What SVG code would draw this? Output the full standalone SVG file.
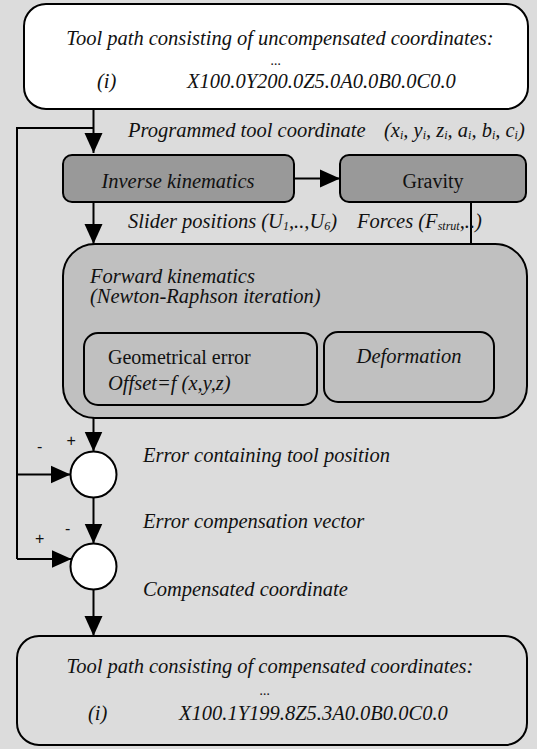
<svg xmlns="http://www.w3.org/2000/svg" width="537" height="749" viewBox="0 0 537 749">
<style>
.box{stroke:#000;stroke-width:2}
.white{fill:#fff}
.dark{fill:#999}
.mid{fill:#c0c0c0}
.plain{fill:#dcdcdc}
.t{font-family:"Liberation Serif","Times New Roman",serif;font-size:20.5px;fill:#111}
.u{font-size:20px}
.i{font-style:italic}
.c{text-anchor:middle}
.d{font-size:14px}
.ln{stroke:#000;stroke-width:2;fill:none}
.sign{font-family:"Liberation Sans",Arial,sans-serif;font-size:16px;fill:#111}
</style>
<defs>
<marker id="ah" markerUnits="userSpaceOnUse" markerWidth="20" markerHeight="20" viewBox="0 0 20 20" refX="20" refY="10" orient="auto"><path d="M0,1 L20,10 L0,19 Z" fill="#000"/></marker>
</defs>
<rect x="0" y="0" width="537" height="749" fill="#dcdcdc"/>

<g id="connectors">
<path class="ln" d="M93.5,109 V153" marker-end="url(#ah)"/>
<path class="ln" d="M93.5,128 H17 V559"/>
<path class="ln" d="M17,474.5 H70.5" marker-end="url(#ah)"/>
<path class="ln" d="M17,559 H71.5" marker-end="url(#ah)"/>
<path class="ln" d="M294,178.5 H340" marker-end="url(#ah)"/>
<path class="ln" d="M93.5,202 V244" marker-end="url(#ah)"/>
<path class="ln" d="M471,202 V332" marker-end="url(#ah)"/>
<path class="ln" d="M93.5,418 V451.5" marker-end="url(#ah)"/>
<path class="ln" d="M93.5,497.5 V543.5" marker-end="url(#ah)"/>
<path class="ln" d="M93.5,589.5 V636" marker-end="url(#ah)"/>
</g>

<g id="top-box">
<rect class="box white" x="24" y="4" width="504" height="105" rx="22"/>
<text class="t i c" x="280" y="45">Tool path consisting of  uncompensated coordinates:</text>
<text class="t i c d" x="276" y="65">...</text>
<text class="t i" x="97" y="88">(i)</text>
<text class="t i" x="187" y="88">X100.0Y200.0Z5.0A0.0B0.0C0.0</text>
</g>

<g id="programmed-label">
<text class="t i" x="128" y="137">Programmed tool coordinate<tspan x="384">(x</tspan><tspan font-size="12" dy="2">i</tspan><tspan dy="-2">, y</tspan><tspan font-size="12" dy="2">i</tspan><tspan dy="-2">, z</tspan><tspan font-size="12" dy="2">i</tspan><tspan dy="-2">, a</tspan><tspan font-size="12" dy="2">i</tspan><tspan dy="-2">, b</tspan><tspan font-size="12" dy="2">i</tspan><tspan dy="-2">, c</tspan><tspan font-size="12" dy="2">i</tspan><tspan dy="-2">)</tspan></text>
</g>

<g id="inverse-kinematics">
<rect class="box dark" x="63" y="155" width="231" height="47" rx="9"/>
<text class="t i c" x="178" y="188">Inverse kinematics</text>
</g>

<g id="gravity">
<rect class="box dark" x="340" y="155" width="186" height="47" rx="9"/>
<text class="t u c" x="433" y="188">Gravity</text>
</g>

<g id="slider-label">
<text class="t i" x="128" y="228">Slider positions (U<tspan font-size="12" dy="2">1</tspan><tspan dy="-2">,..,U</tspan><tspan font-size="12" dy="2">6</tspan><tspan dy="-2">)</tspan></text>
</g>
<g id="forces-label">
<text class="t i" x="357" y="228">Forces (F<tspan font-size="12" dy="2">strut</tspan><tspan dy="-2">,..)</tspan></text>
</g>

<g id="forward-kinematics">
<rect class="box mid" x="63" y="244" width="464" height="174" rx="32"/>
<text class="t i" x="90" y="283">Forward kinematics</text>
<text class="t i" x="90" y="303">(Newton-Raphson iteration)</text>
</g>

<g id="geometrical-error">
<rect class="box mid" x="84" y="333" width="233" height="72" rx="14"/>
<text class="t u" x="108" y="364">Geometrical error</text>
<text class="t i" x="108" y="390">Offset=f (x,y,z)</text>
</g>

<g id="deformation">
<rect class="box mid" x="324" y="332" width="170" height="70" rx="14"/>
<text class="t i c" x="409" y="363">Deformation</text>
</g>

<g id="sum1">
<circle class="box white" cx="93.5" cy="474.5" r="23"/>
<text class="sign" x="37" y="452" font-size="20">-</text>
<text class="sign" x="66.5" y="446">+</text>
</g>
<text class="t i" x="143" y="462">Error containing tool position</text>
<text class="t i" x="143" y="528">Error compensation vector</text>

<g id="sum2">
<circle class="box white" cx="93.5" cy="566.5" r="23"/>
<text class="sign" x="65" y="534" font-size="12">-</text>
<text class="sign" x="35" y="544">+</text>
</g>
<text class="t i" x="143" y="596">Compensated coordinate</text>

<g id="bottom-box">
<rect class="box plain" x="17" y="636" width="510" height="109" rx="22"/>
<text class="t i c" x="270" y="673">Tool path consisting of compensated coordinates:</text>
<text class="t i c d" x="265" y="695">...</text>
<text class="t i" x="88" y="720">(i)</text>
<text class="t i" x="179" y="720">X100.1Y199.8Z5.3A0.0B0.0C0.0</text>
</g>
</svg>
